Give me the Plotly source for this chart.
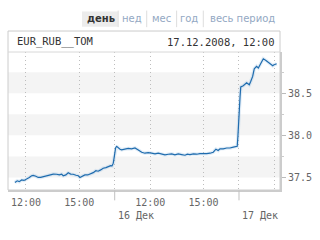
import plotly.graph_objects as go

# trading-hour positions (sessions 10:00-17:00 concatenated; 15 Dec 10:00 = 0)
t_pos = [1.38, 1.51, 1.62, 1.76, 1.89, 2.04, 2.19, 2.32, 2.41, 2.56, 2.69, 2.83, 2.98,
         3.17, 3.35, 3.54, 3.73, 3.88, 4.01, 4.10, 4.25, 4.38, 4.52, 4.66, 4.82, 4.95,
         5.04, 5.19, 5.32, 5.48, 5.61, 5.79, 5.94, 6.07, 6.21, 6.35, 6.51, 6.64, 6.77,
         6.85, 6.92, 6.98, 7.05, 7.11, 7.20, 7.30, 7.39, 7.52, 7.63, 7.76, 7.95, 8.14,
         8.33, 8.52, 8.70, 8.89, 9.08, 9.27, 9.45, 9.64, 9.83, 10.02, 10.21, 10.39,
         10.58, 10.77, 10.96, 11.09, 11.24, 11.43, 11.62, 11.80, 11.99, 12.18, 12.37,
         12.55, 12.70, 12.83, 12.93, 13.11, 13.31, 13.49, 13.68, 13.83, 13.90, 13.94,
         13.98, 14.06, 14.10, 14.24, 14.43, 14.58, 14.66, 14.77, 14.86, 14.99, 15.09,
         15.22, 15.37, 15.52, 15.65, 15.78, 15.90, 15.95, 16.12]
rate = [37.44, 37.46, 37.45, 37.47, 37.465, 37.48, 37.50, 37.52, 37.525, 37.515, 37.50,
        37.50, 37.51, 37.52, 37.533, 37.54, 37.538, 37.53, 37.54, 37.52, 37.53, 37.555,
        37.54, 37.538, 37.526, 37.52, 37.50, 37.52, 37.53, 37.53, 37.54, 37.557, 37.58,
        37.574, 37.59, 37.61, 37.617, 37.63, 37.64, 37.637, 37.67, 37.75, 37.85, 37.87,
        37.85, 37.835, 37.828, 37.836, 37.84, 37.845, 37.84, 37.85, 37.827, 37.80,
        37.788, 37.795, 37.788, 37.78, 37.788, 37.78, 37.768, 37.776, 37.78, 37.768,
        37.78, 37.772, 37.764, 37.776, 37.772, 37.78, 37.776, 37.783, 37.78, 37.783,
        37.788, 37.80, 37.836, 37.82, 37.84, 37.84, 37.85, 37.85, 37.86, 37.867, 37.87,
        37.99, 38.22, 38.46, 38.575, 38.59, 38.625, 38.60, 38.64, 38.70, 38.79, 38.82,
        38.80, 38.85, 38.91, 38.89, 38.867, 38.85, 38.827, 38.835, 38.85]

x_tickvals = [2, 5, 7, 9, 12, 14, 16]
x_ticktext = ["12:00", "15:00", "", "12:00", "15:00", "", ""]
day_boundaries = [7, 14]
day_labels = ["16 Дек", "17 Дек"]
bands = [(37.5, 37.75), (38.0, 38.25), (38.5, 38.75)]

instrument = "EUR_RUB__TOM"
stamp = "17.12.2008, 12:00"
tabs = ["день", "нед", "мес", "год", "весь период"]
tab_x = [0.342, 0.455, 0.563, 0.667, 0.862]
sep_x = [0.405, 0.510, 0.620, 0.718]

MONO = "DejaVu Sans Mono"
SANS = "DejaVu Sans"

fig = go.Figure()
fig.add_trace(go.Scatter(x=t_pos, y=rate, mode="lines",
                         line=dict(color="rgba(140,185,225,0.25)", width=3.5),
                         hoverinfo="skip", showlegend=False))
fig.add_trace(go.Scatter(x=t_pos, y=rate, mode="lines",
                         line=dict(color="#1f6cae", width=1.2),
                         showlegend=False))

shapes = []
for lo, hi in bands:
    shapes.append(dict(type="rect", xref="paper", yref="y", x0=0, x1=1, y0=lo, y1=hi,
                       fillcolor="#f4f4f4", line=dict(width=0), layer="below"))
for b in day_boundaries:
    shapes.append(dict(type="line", xref="x", yref="paper", x0=b, x1=b, y0=0, y1=-0.075,
                       line=dict(color="#c0c0c0", width=1)))
# outer box + header
shapes.append(dict(type="rect", xref="paper", yref="paper", x0=0, x1=1, y0=0, y1=1.152,
                   line=dict(color="#cccccc", width=1)))
shapes.append(dict(type="line", xref="paper", yref="paper", x0=0, x1=1, y0=1, y1=1,
                   line=dict(color="#d8d8d8", width=1)))
# active tab background
shapes.append(dict(type="rect", xref="paper", yref="paper", x0=0.272, x1=0.404,
                   y0=1.183, y1=1.293, fillcolor="#ececec", line=dict(width=0)))
for s in sep_x:
    shapes.append(dict(type="line", xref="paper", yref="paper", x0=s, x1=s,
                       y0=1.18, y1=1.30, line=dict(color="#dddddd", width=1)))

annotations = []
for i, (t, xp) in enumerate(zip(tabs, tab_x)):
    annotations.append(dict(text=f"<b>{t}</b>" if i == 0 else t, xref="paper", yref="paper",
                            x=xp, y=1.243, xanchor="center", yanchor="middle", showarrow=False,
                            font=dict(family=SANS, size=10,
                                      color="#333333" if i == 0 else "#93a8c3")))
annotations.append(dict(text=instrument, xref="paper", yref="paper", x=0.026, y=1.073,
                        xanchor="left", yanchor="middle", showarrow=False,
                        font=dict(family=MONO, size=10.5, color="#333333")))
annotations.append(dict(text=stamp, xref="paper", yref="paper", x=0.986, y=1.073,
                        xanchor="right", yanchor="middle", showarrow=False,
                        font=dict(family=MONO, size=10.5, color="#333333")))
for b, lab in zip(day_boundaries, day_labels):
    annotations.append(dict(text=lab, xref="x", yref="paper", x=b, y=-0.185,
                            xanchor="left", yanchor="middle", xshift=1, showarrow=False,
                            font=dict(family=MONO, size=10, color="#666666")))

fig.update_layout(
    width=320, height=240,
    margin=dict(l=8, r=40, t=52, b=50),
    paper_bgcolor="white", plot_bgcolor="white",
    shapes=shapes, annotations=annotations,
    xaxis=dict(range=[0.99, 16.31], tickmode="array", tickvals=x_tickvals,
               ticktext=x_ticktext, showgrid=True, griddash="1px,3px", gridcolor="#bdbdbd",
               gridwidth=1, zeroline=False, showline=True, linecolor="#cccccc",
               linewidth=2, ticks="", ticklabelstandoff=2,
               tickfont=dict(family=MONO, size=10, color="#666666")),
    yaxis=dict(range=[37.351, 38.99], side="right", tick0=37.5, dtick=0.5,
               tickformat=".1f", showgrid=False, zeroline=False, showline=True,
               linecolor="#cccccc", linewidth=2, ticks="outside", ticklen=4,
               tickcolor="#bbbbbb",
               minor=dict(ticks="outside", ticklen=2, tickcolor="#cccccc",
                          tick0=37.5, dtick=0.25, showgrid=False),
               tickfont=dict(family=MONO, size=10, color="#666666")),
)

fig.write_html("out.html", config={"displayModeBar": False})
